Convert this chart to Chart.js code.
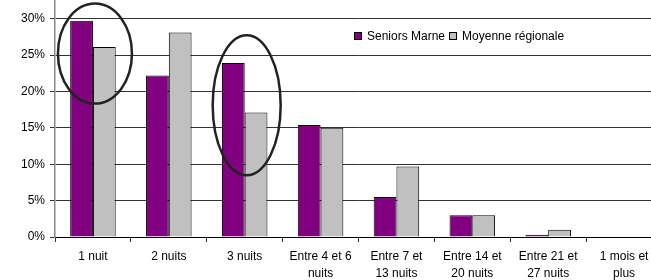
<!DOCTYPE html>
<html lang="fr">
<head>
<meta charset="UTF-8">
<title>Durée des séjours</title>
<script src="https://cdn.jsdelivr.net/npm/chart.js"></script>
<style>
  html, body { margin: 0; padding: 0; background: #fff; overflow: hidden; width: 651px; height: 280px; }
  #wrap { position: absolute; left: 0; top: -30px; width: 662px; height: 310px; }
</style>
</head>
<body>
<div id="wrap"><canvas id="chart"></canvas></div>
<script>
const categories = ['1 nuit', '2 nuits', '3 nuits', ['Entre 4 et 6', 'nuits'], ['Entre 7 et', '13 nuits'],
                    ['Entre 14 et', '20 nuits'], ['Entre 21 et', '27 nuits'], ['1 mois et', 'plus']];
const seniorsMarne = [29.7, 22.2, 23.9, 15.4, 5.5, 3.0, 0.3, 0];
const moyenneRegionale = [26.1, 28.1, 17.1, 15.0, 9.7, 3.0, 1.0, 0];
const yTicks = [0, 5, 10, 15, 20, 25, 30, 35];

// ellipses drawn around some groups: category index, centre value, radii
const circled = [
  { index: 0, value: 25.2, dx: 2, rx: 37, ry: 50 },
  { index: 2, value: 18.1, dx: 2, rx: 34, ry: 70 }
];

const FONT = '"Liberation Sans", Arial, sans-serif';

const extras = {
  id: 'extras',
  afterDatasetsDraw(chart) {
    const ctx = chart.ctx;
    const x = chart.scales.x, y = chart.scales.y;
    ctx.save();
    ctx.strokeStyle = '#222';
    ctx.lineWidth = 2.5;
    circled.forEach(c => {
      ctx.beginPath();
      ctx.ellipse(x.getPixelForValue(c.index) + c.dx, y.getPixelForValue(c.value), c.rx, c.ry, 0, 0, Math.PI * 2);
      ctx.stroke();
    });

    // legend inside the plot
    ctx.font = '12px ' + FONT;
    ctx.textBaseline = 'middle';
    let lx = 354, ly = 36 + 30;
    chart.data.datasets.forEach(ds => {
      ctx.fillStyle = ds.backgroundColor;
      ctx.strokeStyle = '#000';
      ctx.lineWidth = 1;
      ctx.fillRect(lx + 0.5, ly - 3.5, 7, 7);
      ctx.strokeRect(lx + 0.5, ly - 3.5, 7, 7);
      ctx.fillStyle = '#000';
      ctx.fillText(ds.label, lx + 13, ly + 1);
      lx += 13 + ctx.measureText(ds.label).width + 4;
    });
    ctx.restore();
  }
};

new Chart(document.getElementById('chart'), {
  type: 'bar',
  data: {
    labels: categories,
    datasets: [
      { label: 'Seniors Marne', data: seniorsMarne, backgroundColor: '#800080', borderColor: '#000', borderWidth: 1 },
      { label: 'Moyenne régionale', data: moyenneRegionale, backgroundColor: '#C0C0C0', borderColor: '#000', borderWidth: 1 }
    ]
  },
  options: {
    responsive: true,
    maintainAspectRatio: false,
    animation: false,
    layout: { padding: { top: 10, right: 0, left: 0, bottom: 0 } },
    plugins: { legend: { display: false }, tooltip: { enabled: false } },
    datasets: { bar: { categoryPercentage: 0.6, barPercentage: 1.0 } },
    scales: {
      x: {
        grid: { drawOnChartArea: false, drawTicks: true, tickLength: 5, color: '#333', offset: true },
        border: { color: '#000', width: 1 },
        ticks: { color: '#000', font: { family: FONT, size: 12, lineHeight: 1.4 }, padding: 6, maxRotation: 0, autoSkip: false },
        afterFit(s) { s.height = 43; }
      },
      y: {
        min: 0, max: 35,
        afterBuildTicks(s) { s.ticks = yTicks.map(v => ({ value: v })); },
        grid: { color: '#333', lineWidth: 1, tickLength: 5, drawTicks: true },
        border: { color: '#888', width: 1.5 },
        ticks: { color: '#000', font: { family: FONT, size: 12 }, padding: 5, callback: v => v + '%' },
        afterFit(s) { s.width = 55; }
      }
    }
  },
  plugins: [extras]
});
</script>
</body>
</html>
